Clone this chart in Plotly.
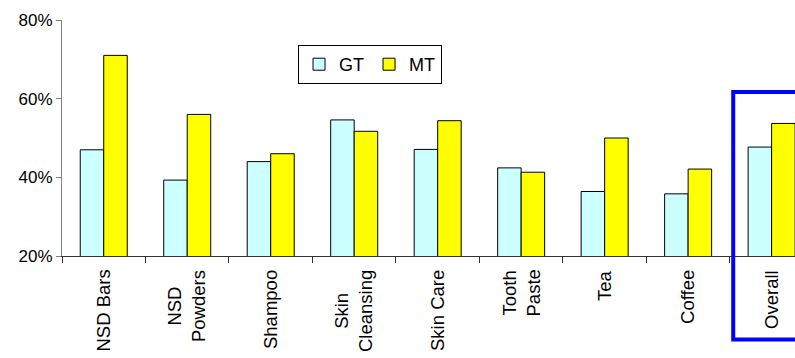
import plotly.graph_objects as go

# Category names and the two-line labels printed under the axis
categories = ["NSD Bars", "NSD Powders", "Shampoo", "Skin Cleansing", "Skin Care",
              "Tooth Paste", "Tea", "Coffee", "Overall"]
axis_labels = ["NSD Bars", "NSD<br>Powders", "Shampoo", "Skin<br>Cleansing", "Skin Care",
               "Tooth<br>Paste", "Tea", "Coffee", "Overall"]

# Share (%) by channel
gt_values = [47.0, 39.3, 44.0, 54.6, 47.1, 42.4, 36.4, 35.8, 47.7]
mt_values = [71.0, 56.0, 46.0, 51.7, 54.4, 41.3, 50.0, 42.1, 53.7]

y_ticks = [20, 40, 60, 80]
y_tick_labels = ["20%", "40%", "60%", "80%"]

FONT = "Liberation Sans, Arial, sans-serif"

fig = go.Figure()
fig.add_trace(go.Bar(
    name="GT", x=categories, y=gt_values,
    marker=dict(color="#CCFFFF", line=dict(color="#000000", width=1)),
))
fig.add_trace(go.Bar(
    name="MT", x=categories, y=mt_values,
    marker=dict(color="#FFFF00", line=dict(color="#000000", width=1)),
))

# Category labels, centred multi-line and rotated
for cat, lab in zip(categories, axis_labels):
    fig.add_annotation(
        x=cat, xref="x", y=-0.05, yref="paper",
        text=lab, textangle=-90, showarrow=False,
        xanchor="center", yanchor="top", align="center",
        font=dict(family=FONT, size=18.5, color="#000000"),
    )

# Highlight frame around the overall figure
fig.add_shape(
    type="rect", xref="x", yref="paper",
    x0=7.54, x1=9.2, y0=-0.354, y1=0.695,
    line=dict(color="#0000FF", width=4),
    fillcolor="rgba(0,0,0,0)",
)

fig.update_layout(
    width=795, height=358,
    margin=dict(l=62, r=0, t=20, b=102),
    paper_bgcolor="#FFFFFF", plot_bgcolor="#FFFFFF",
    barmode="group", bargap=0.437, bargroupgap=0,
    font=dict(family=FONT, size=17, color="#000000"),
    showlegend=True,
    legend=dict(
        orientation="h", x=0.322, y=0.894, xanchor="left", yanchor="top",
        bordercolor="#000000", borderwidth=1, bgcolor="#FFFFFF",
        font=dict(family=FONT, size=18, color="#000000"),
        itemwidth=30, tracegroupgap=0,
    ),
    xaxis=dict(
        type="category", range=[-0.5, 8.28],
        showticklabels=False, ticks="outside", tickson="boundaries",
        ticklen=6, tickcolor="#333333",
        showline=True, linecolor="#333333", linewidth=1,
        showgrid=False, zeroline=False, fixedrange=True,
    ),
    yaxis=dict(
        range=[20, 80], tickmode="array", tickvals=y_ticks, ticktext=y_tick_labels,
        ticks="outside", ticklen=5, tickcolor="#808080",
        showline=True, linecolor="#808080", linewidth=1,
        showgrid=False, zeroline=False,
        tickfont=dict(family=FONT, size=17, color="#000000"),
    ),
)

fig.write_html("out.html")
